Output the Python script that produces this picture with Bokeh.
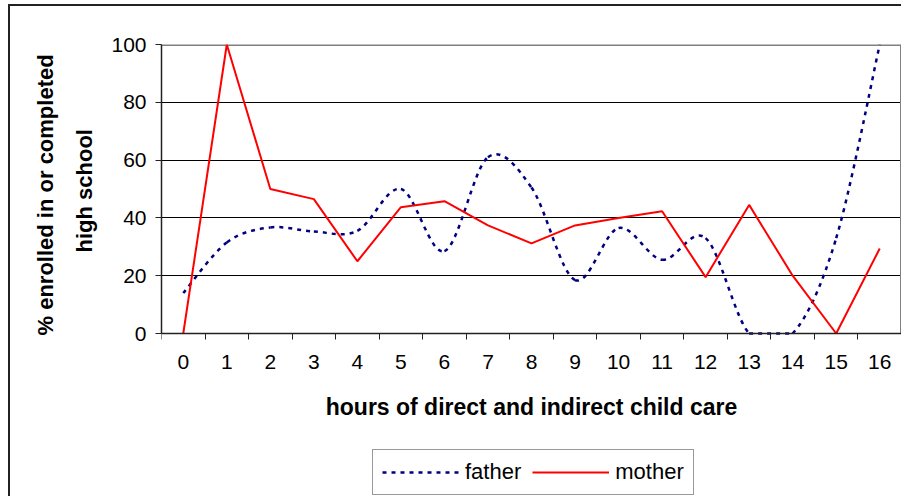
from bokeh.plotting import figure
from bokeh.models import (Range1d, FixedTicker, Legend, LegendItem, ColumnDataSource, Title)
from bokeh.embed import file_html
from bokeh.resources import INLINE

# ---- data ----
hours = list(range(17))
tick_labels = [str(h) for h in hours]
father = [14, 31.5, 36.7, 35.3, 35.5, 50, 28.5, 61, 50.5, 18.5, 36.5, 25.5, 33, 0, 0, 33, 100]
mother = [0, 100, 50, 46.5, 25, 43.7, 45.8, 37.4, 31.2, 37.4, 40, 42.3, 19.5, 44.5, 20, 0, 29.4]
y_ticks = [0, 20, 40, 60, 80, 100]
series_names = ["father", "mother"]
x_title = "hours of direct and indirect child care"
y_title_lines = ["% enrolled in or completed", "high school"]

FONT = "Liberation Sans"
NAVY = "#000080"
RED = "#ff0000"

# layout (pixels): plot area 289 px tall, plus 163 px below it for axis texts and legend
PLOT_H, BELOW_H = 289, 163
y_lo, y_hi = y_ticks[0], y_ticks[-1]
y_start = y_lo - BELOW_H * (y_hi - y_lo) / PLOT_H
x_start, x_end = hours[0] - 0.5, hours[-1] + 0.5

p = figure(frame_width=740, frame_height=PLOT_H + BELOW_H, output_backend="svg",
           toolbar_location=None,
           x_range=Range1d(x_start, x_end), y_range=Range1d(y_start, y_hi),
           min_border_left=161, min_border_right=0, min_border_top=44,
           min_border_bottom=0)
p.background_fill_color = "white"
p.border_fill_color = "white"
p.border_fill_alpha = 0
p.outline_line_color = None
# outer chart border (left and top edges), drawn behind the transparent canvas border
p.styles = {"box-shadow": "inset 8px 4px 0 0 #ffffff, inset 10px 6px 0 0 #222222",
            "background-color": "#ffffff"}

# grid
p.xgrid.grid_line_color = None
p.ygrid.ticker = FixedTicker(ticks=y_ticks)
p.ygrid.grid_line_color = "#000000"
p.ygrid.grid_line_width = 1

# plot-area border (top and right, grey)
p.segment(x0=[x_start, x_end], y0=[y_hi, y_lo], x1=[x_end, x_end], y1=[y_hi, y_hi],
          line_color="#808080", line_width=3)

# y axis
p.yaxis.bounds = (y_lo, y_hi)
p.yaxis.ticker = FixedTicker(ticks=y_ticks)
p.yaxis.major_label_text_font = FONT
p.yaxis.major_label_text_font_size = "21px"
p.yaxis.major_label_text_color = "black"
p.yaxis.major_tick_out = 6
p.yaxis.major_tick_in = 0
p.yaxis.major_tick_line_color = "#222222"
p.yaxis.minor_tick_line_color = None
p.yaxis.axis_line_color = "#222222"
p.yaxis.axis_line_width = 1.5
p.yaxis.major_label_standoff = 9

# y-axis title: two lines placed alongside the 0-100 plot area
# (offset = distance in px from the bottom of the frame to the start of the text)
for line, off, stand in [(y_title_lines[1], 244, 24), (y_title_lines[0], 161, 0)]:
    p.add_layout(Title(text=line, align="left", offset=off, standoff=stand,
                       text_font=FONT, text_font_style="bold",
                       text_font_size="22px", text_color="black"), "left")

# x axis at value 0: labels at category centres, ticks between categories
p.xaxis.fixed_location = y_lo
p.xaxis.ticker = FixedTicker(ticks=hours, minor_ticks=[h - 0.5 for h in hours] + [x_end])
p.xaxis.major_label_overrides = {h: t for h, t in zip(hours, tick_labels)}
p.xaxis.major_label_text_font = FONT
p.xaxis.major_label_text_font_size = "21px"
p.xaxis.major_label_text_color = "black"
p.xaxis.major_tick_line_color = None
p.xaxis.major_tick_out = 6
p.xaxis.major_tick_in = 0
p.xaxis.minor_tick_out = 6
p.xaxis.minor_tick_in = 0
p.xaxis.minor_tick_line_color = "#222222"
p.xaxis.axis_line_color = "#222222"
p.xaxis.axis_line_width = 1.5
p.xaxis.major_label_standoff = 15
p.xaxis.axis_label = x_title
p.xaxis.axis_label_text_font = FONT
p.xaxis.axis_label_text_font_style = "bold"
p.xaxis.axis_label_text_font_size = "23px"
p.xaxis.axis_label_text_color = "black"
p.xaxis.axis_label_standoff = 22

# father: smoothed line (Bezier segments through the data points,
# control points kept inside the value axis range)
segs = dict(x0=[], y0=[], x1=[], y1=[], cx0=[], cy0=[], cx1=[], cy1=[])
n = len(hours)
for i in range(n - 1):
    im, i2 = max(i - 1, 0), min(i + 2, n - 1)
    segs["x0"].append(hours[i]); segs["y0"].append(father[i])
    segs["x1"].append(hours[i + 1]); segs["y1"].append(father[i + 1])
    segs["cx0"].append(hours[i] + (hours[i + 1] - hours[im]) / 6)
    segs["cy0"].append(min(y_hi, max(y_lo, father[i] + (father[i + 1] - father[im]) / 6)))
    segs["cx1"].append(hours[i + 1] - (hours[i2] - hours[i]) / 6)
    segs["cy1"].append(min(y_hi, max(y_lo, father[i + 1] - (father[i2] - father[i]) / 6)))
fr = p.bezier(x0="x0", y0="y0", x1="x1", y1="y1", cx0="cx0", cy0="cy0", cx1="cx1", cy1="cy1",
              source=ColumnDataSource(segs), line_color=NAVY, line_width=2.5, line_dash="4 5")

# mother: straight line
mr = p.line(hours, mother, line_color=RED, line_width=2)

legend = Legend(items=[LegendItem(label=series_names[0], renderers=[fr]),
                       LegendItem(label=series_names[1], renderers=[mr])],
                orientation="horizontal", location=(211, 1),
                label_text_font=FONT, label_text_font_size="22px",
                label_text_color="black",
                glyph_width=77, glyph_height=22, label_standoff=6, spacing=11,
                padding=9, margin=0,
                border_line_color="#333333", border_line_width=1.5,
                background_fill_color="white", background_fill_alpha=1)
p.add_layout(legend, "center")

open("out.html", "w").write(file_html(p, INLINE))
